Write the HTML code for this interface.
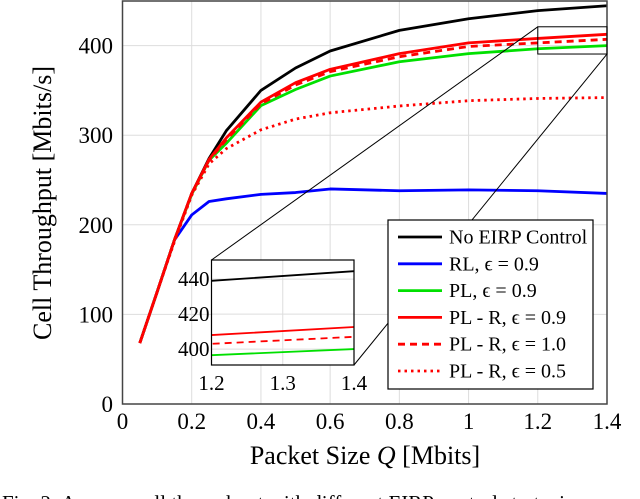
<!DOCTYPE html>
<html><head><meta charset="utf-8"><style>
html,body{margin:0;padding:0;background:#fff;width:640px;height:499px;overflow:hidden}
svg{display:block;font-family:"Liberation Serif",serif}
</style></head><body>
<svg id="chart" width="640" height="499" xmlns="http://www.w3.org/2000/svg"></svg>
<script>
const xVals=[0.05,0.1,0.15,0.2,0.25,0.3,0.4,0.5,0.6,0.8,1.0,1.2,1.4];
const noEirp=[68,125,183,235,274,305,350,375,394,417,430,439,444.5];
const rl=[68,125,183,211,226,229,234,236,240,238,239,238,235];
const pl=[68,125,183,234,272,291,333,351,366,382,391,396.5,400];
const plr09=[68,125,183,235,273,297,337,358.6,373.5,391,403,408,412.6];
const plr10=[68,125,183,235,272,295,335,356,371,387.6,399,403,407];
const plr05=[68,125,181,233,268,285,306,318,325,332.6,338.5,341,342];
const xTicks=[0,0.2,0.4,0.6,0.8,1,1.2,1.4];
const yTicks=[0,100,200,300,400];
const insetXTicks=[1.2,1.3,1.4];
const insetYTicks=[400,420,440];
const seriesNames=["No EIRP Control","RL, ϵ = 0.9","PL, ϵ = 0.9","PL - R, ϵ = 0.9","PL - R, ϵ = 1.0","PL - R, ϵ = 0.5"];

const NS="http://www.w3.org/2000/svg";
const svg=document.getElementById('chart');
function mk(t,a,p){const e=document.createElementNS(NS,t);for(const k in a)e.setAttribute(k,a[k]);(p||svg).appendChild(e);return e;}
const X0=122.5,X1=607,Y0=404,YT=1;
const sx=v=>X0+v/1.4*(X1-X0);
const sy=v=>Y0-v*0.896;
const ix0=211.5,ix1=354,iy0=365,iy1=260;
const isx=v=>ix0+(v-1.2)/0.2*(ix1-ix0);
const isy=v=>iy0-(v-390.9)*1.75;

const styles=[
 {c:"#000",d:""},{c:"#0000ff",d:""},{c:"#00e000",d:""},
 {c:"#ff0000",d:""},{c:"#ff0000",d:"7,5"},{c:"#ff0000",d:"2.5,4"}];
const series=[noEirp,rl,pl,plr09,plr10,plr05];
const sNames=['no-eirp-line','rl-line','pl-line','pl-r-09-line','pl-r-10-line','pl-r-05-line'];

const grid=mk('g',{});


xTicks.forEach(t=>{mk('line',{x1:sx(t),x2:sx(t),y1:YT,y2:Y0,stroke:"#ddd","stroke-width":1},grid);});
yTicks.forEach(t=>{mk('line',{x1:X0,x2:X1,y1:sy(t),y2:sy(t),stroke:"#ddd","stroke-width":1},grid);});

series.forEach((s,i)=>{
 const p=mk('polyline',{points:s.map((v,j)=>sx(xVals[j])+","+sy(v)).join(" "),fill:"none",stroke:styles[i].c,"stroke-width":2.8,"stroke-dasharray":styles[i].d,"stroke-linejoin":"round"});
 
 
});

const fr=mk('rect',{x:X0,y:YT,width:X1-X0,height:Y0-YT,fill:"none",stroke:"#444","stroke-width":1.5});


xTicks.forEach(t=>{
 const l=mk('text',{x:sx(t),y:429,"font-size":23,"text-anchor":"middle"});l.textContent=String(t);
 
 
});
yTicks.forEach(t=>{
 const l=mk('text',{x:113,y:sy(t)+8,"font-size":23,"text-anchor":"end"});l.textContent=String(t);
 
 
});
const xt=mk('text',{x:365,y:464,"font-size":26,"text-anchor":"middle"});
xt.innerHTML='Packet Size <tspan font-style="italic">Q</tspan> [Mbits]';


const yt=mk('text',{x:0,y:0,"font-size":26,"text-anchor":"middle",transform:"translate(51,203) rotate(-90)"});
yt.textContent='Cell Throughput [Mbits/s]';



const zr=mk('rect',{x:sx(1.2),y:sy(421),width:sx(1.4)-sx(1.2),height:sy(390.6)-sy(421),fill:"none",stroke:"#000","stroke-width":1});


mk('line',{x1:sx(1.2),y1:sy(421),x2:ix0,y2:iy1,stroke:"#000","stroke-width":1});
mk('line',{x1:sx(1.4),y1:sy(390.6),x2:ix1,y2:iy0,stroke:"#000","stroke-width":1});

const ig=mk('g',{});


mk('rect',{x:ix0,y:iy1,width:ix1-ix0,height:iy0-iy1,fill:"#fff"},ig);
insetXTicks.forEach(t=>mk('line',{x1:isx(t),x2:isx(t),y1:iy1,y2:iy0,stroke:"#ddd"},ig));
insetYTicks.forEach(t=>mk('line',{x1:ix0,x2:ix1,y1:isy(t),y2:isy(t),stroke:"#ddd"},ig));
const cp=mk('clipPath',{id:"ic"},ig);mk('rect',{x:ix0,y:iy1,width:ix1-ix0,height:iy0-iy1},cp);
const ic=mk('g',{"clip-path":"url(#ic)"},ig);
series.forEach((s,i)=>{
 const p=mk('polyline',{points:s.map((v,j)=>isx(xVals[j])+","+isy(v)).join(" "),fill:"none",stroke:styles[i].c,"stroke-width":1.8,"stroke-dasharray":styles[i].d},ic);
 
 
});
mk('rect',{x:ix0,y:iy1,width:ix1-ix0,height:iy0-iy1,fill:"none",stroke:"#000","stroke-width":1.2},ig);
insetXTicks.forEach(t=>{const l=mk('text',{x:isx(t),y:390,"font-size":21,"text-anchor":"middle"},ig);l.textContent=t.toFixed(1);
 
 });
insetYTicks.forEach(t=>{const l=mk('text',{x:ix0-2,y:isy(t)+7,"font-size":21,"text-anchor":"end"},ig);l.textContent=String(t);
 
 });

const lg=mk('g',{});


mk('rect',{x:388,y:220,width:205,height:169,fill:"#fff",stroke:"#000","stroke-width":1.2},lg);
seriesNames.forEach((n,i)=>{
 const y=237+i*26.8;
 const e=mk('g',{},lg);
 
 
 mk('line',{x1:398,x2:442,y1:y,y2:y,stroke:styles[i].c,"stroke-width":2.8,"stroke-dasharray":styles[i].d},e);
 const t=mk('text',{x:449,y:y+6.5,"font-size":20},e);t.textContent=n;
});

const cap=mk('text',{x:2,y:510,"font-size":21});
cap.textContent='Fig. 2: Average cell throughput with different EIRP control strategies.';


</script>
</body></html>
